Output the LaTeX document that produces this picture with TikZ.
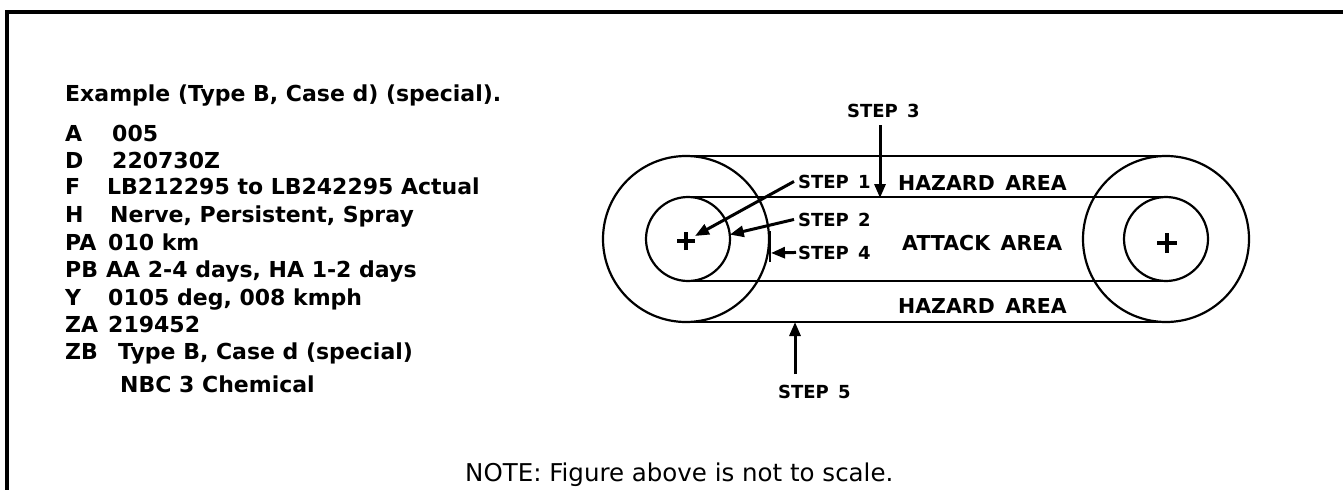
\documentclass[tikz,border=0pt]{standalone}
\usepackage{fontspec}
\setmainfont{DejaVu Sans}
\usetikzlibrary{arrows.meta}
\begin{document}
\begin{tikzpicture}[x=1pt,y=-1pt,
  lbl/.style={anchor=base west, inner sep=0pt, font=\bfseries\fontsize{22}{26}\selectfont},
  area/.style={anchor=base west, inner sep=0pt, font=\bfseries\fontsize{20.5}{24}\selectfont},
  steplbl/.style={anchor=base west, inner sep=0pt, font=\bfseries\fontsize{18}{22}\selectfont},
  note/.style={anchor=base west, inner sep=0pt, font=\fontsize{24.5}{28}\selectfont},
  ring/.style={circle, draw, line width=2.2pt, inner sep=0pt, outer sep=0pt},
  band/.style={line width=2.2pt},
  arr/.style={line width=3pt, -{Triangle[length=14pt,width=11pt]}},
  plusmark/.style={line width=3.5pt},
  frame/.style={line width=3.5pt}
  ]
\useasboundingbox (0,0) rectangle (1343,490);
% frame
\draw[frame] (1343,12) -- (7,12) -- (7,490);

% left text block
\node[lbl] (ex) at (65,101) {Example (Type B, Case d) (special).};
\node[lbl] (la) at (65,141) {A};   \node[lbl] (va) at (112,141) {005};
\node[lbl] (ld) at (65,168) {D};   \node[lbl] (vd) at (112,168) {220730Z};
\node[lbl] (lf) at (65,194) {F};   \node[lbl] (vf) at (107,194) {LB212295 to LB242295 Actual};
\node[lbl] (lh) at (65,222) {H};   \node[lbl] (vh) at (110,222) {Nerve, Persistent, Spray};
\node[lbl] (lpa) at (65,250) {PA}; \node[lbl] (vpa) at (108,250) {010 km};
\node[lbl] (lpb) at (65,277.5) {PB}; \node[lbl] (vpb) at (106,277.5) {AA 2-4 days, HA 1-2 days};
\node[lbl] (ly) at (65,305) {Y};   \node[lbl] (vy) at (108,305) {0105 deg, 008 kmph};
\node[lbl] (lza) at (65,332.5) {ZA}; \node[lbl] (vza) at (108,332.5) {219452};
\node[lbl] (lzb) at (65,359) {ZB}; \node[lbl] (vzb) at (118,359) {Type B, Case d (special)};
\node[lbl] (nbc) at (120,392) {NBC 3 Chemical};

% circles
\node[ring, minimum size=166pt] (LO) at (686,239) {};
\node[ring, minimum size=84pt] (LI) at (688,239) {};
\node[ring, minimum size=166pt] (RO) at (1166,239) {};
\node[ring, minimum size=84pt] (RI) at (1166,239) {};
% bands
\draw[band] (LO.north) -- (RO.north);
\draw[band] (LI.north) -- (RI.north);
\draw[band] (LI.south) -- (RI.south);
\draw[band] (LO.south) -- (RO.south);

% plus marks
\coordinate (PL) at (686,241);
\coordinate (PR) at (1167,243);
\draw[plusmark] ([xshift=-9pt]PL) -- ([xshift=9pt]PL) ([yshift=-9pt]PL) -- ([yshift=9pt]PL);
\draw[plusmark] ([xshift=-10pt]PR) -- ([xshift=10pt]PR) ([yshift=-10pt]PR) -- ([yshift=10pt]PR);

% area labels
\node[area] (haz1) at (898,190) {HAZARD\, AREA};
\node[area] (att) at (902,250) {ATTACK\, AREA};
\node[area] (haz2) at (898,313) {HAZARD\, AREA};

% step labels
\node[steplbl] (s3) at (847,117) {STEP\, 3};
\node[steplbl] (s1) at (798,188) {STEP\, 1};
\node[steplbl] (s2) at (798,226) {STEP\, 2};
\node[steplbl] (s4) at (798,259) {STEP\, 4};
\node[steplbl] (s5) at (778,398) {STEP\, 5};

% tick near step 4
\draw[line width=2pt] (770,231) -- (770,262);
\coordinate (T4) at (771,253);
\coordinate (T3s) at (880,125);
\coordinate (T3) at (880,198);
\coordinate (T5s) at (795,374);
\coordinate (T5) at (795,322);

% arrows
\draw[arr] ([xshift=-4pt]s1.west) -- ([xshift=9pt,yshift=5pt]PL);
\draw[arr] ([xshift=-4pt]s2.west) -- (LI.6);
\draw[arr] ([xshift=-2pt]s4.west) -- (T4);
\draw[arr] (T3s) -- (T3);
\draw[arr] (T5s) -- (T5);

% note
\node[note] (nt) at (465,481) {NOTE: Figure above is not to scale.};
\end{tikzpicture}
\end{document}
